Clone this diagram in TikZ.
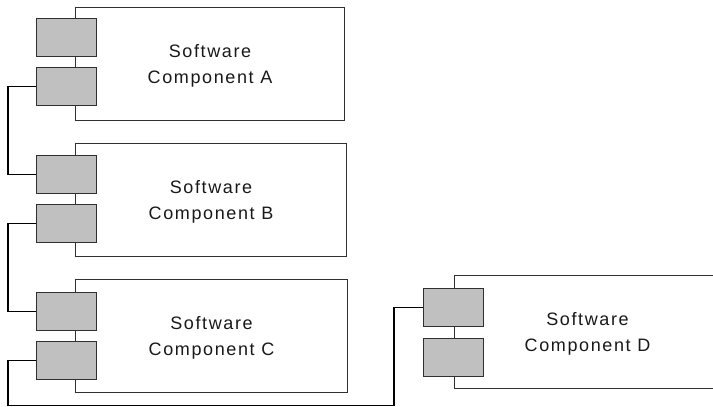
\documentclass[tikz,border=0pt]{standalone}
\usepackage{fontspec}
\setmainfont[LetterSpace=9]{Liberation Sans}
\definecolor{portfill}{HTML}{C0C0C0}
\definecolor{edge}{HTML}{303030}
\begin{document}
\begin{tikzpicture}[x=1pt,y=-1pt,
  compbox/.style={draw=edge, line width=1pt, fill=white, anchor=north west,
    align=center, text=black!90, font=\fontsize{18}{26}\selectfont,
    inner sep=0pt, text depth=0pt},
  port/.style={draw=edge, line width=1pt, fill=portfill, anchor=north west,
    minimum width=60pt, minimum height=38pt, inner sep=0pt},
  wire/.style={draw=black, line width=1.6pt}]
\useasboundingbox (0,0) rectangle (713,407);

% component boxes
\node[compbox, minimum width=269pt, minimum height=113pt] (A) at (75,7) {Software\\Component A};
\node[compbox, minimum width=271pt, minimum height=113pt] (B) at (75,143) {Software\\Component B};
\node[compbox, minimum width=272pt, minimum height=113pt] (C) at (75,279) {Software\\Component C};
\node[compbox, minimum width=266pt, minimum height=113pt] (D) at (454,275) {Software\\Component D};

% ports on the left edge of each component
\node[port] (A1) at (36,18) {};
\node[port] (A2) at (36,67) {};
\node[port] (B1) at (36,155) {};
\node[port] (B2) at (36,204) {};
\node[port] (C1) at (36,292) {};
\node[port] (C2) at (36,341) {};
\node[port] (D1) at (423,288) {};
\node[port] (D2) at (423,338) {};

% corner points of the wiring
\coordinate (rail) at (8,0);
\coordinate (bottom) at (0,405.5);
\coordinate (riser) at (394,0);

% connectors between ports
\draw[wire] (A2.west) -- (rail |- A2.west) -- (rail |- B1.west) -- (B1.west);
\draw[wire] (B2.west) -- (rail |- B2.west) -- (rail |- C1.west) -- (C1.west);
\draw[wire] (C2.west) -- (rail |- C2.west) -- (rail |- bottom) -- (riser |- bottom) -- (riser |- D1.west) -- (D1.west);
\end{tikzpicture}
\end{document}
